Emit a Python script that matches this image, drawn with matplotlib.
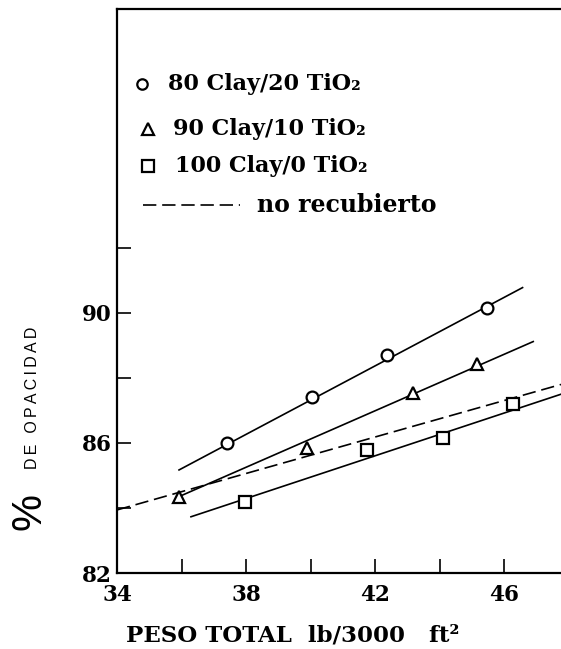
import matplotlib
matplotlib.use("Agg")
import matplotlib.pyplot as plt
import numpy as np

# puntos medidos (peso total lb/3000 ft2, % opacidad)
clay80_x = [37.4, 40.05, 42.35, 45.47]
clay80_y = [86.0, 87.42, 88.71, 90.16]
clay90_x = [35.92, 39.89, 43.17, 45.14]
clay90_y = [84.35, 85.84, 87.55, 88.43]
clay100_x = [37.96, 41.75, 44.1, 46.25]
clay100_y = [84.19, 85.78, 86.16, 87.2]

# rectas de ajuste (extremos)
fit80_x = [35.92, 46.56]
fit80_y = [85.17, 90.78]
fit90_x = [35.92, 46.89]
fit90_y = [84.35, 89.12]
fit100_x = [36.29, 47.75]
fit100_y = [83.73, 87.5]
base_x = [34.0, 47.75]
base_y = [83.94, 87.8]

x_ticks = [34, 36, 38, 40, 42, 44, 46]
x_labels = ['34', '', '38', '', '42', '', '46']
y_ticks = [82, 84, 86, 88, 90, 92]
y_labels = ['82', '', '86', '', '90', '']

legend_labels = ['80 Clay/20 TiO₂', '90 Clay/10 TiO₂', '100 Clay/0 TiO₂', 'no recubierto']

serif = dict(family='DejaVu Serif', weight='bold')

fig = plt.figure(figsize=(5.61, 6.49), dpi=100)
ax = fig.add_axes([0.2086, 0.1171, 0.7914, 0.869])

lw = 1.2
ax.plot(fit80_x, fit80_y, '-', color='black', lw=lw)
ax.plot(fit90_x, fit90_y, '-', color='black', lw=lw)
ax.plot(fit100_x, fit100_y, '-', color='black', lw=lw)
ax.plot(base_x, base_y, color='black', lw=lw, dashes=(8, 3.5))

mk = dict(linestyle='none', markerfacecolor='white', markeredgecolor='black',
          markeredgewidth=1.6, zorder=3)
ax.plot(clay80_x, clay80_y, 'o', markersize=8.5, **mk)
ax.plot(clay90_x, clay90_y, '^', markersize=9, **mk)
ax.plot(clay100_x, clay100_y, 's', markersize=9, **mk)

ax.set_xlim(34, 47.75)
ax.set_ylim(82, 99.35)
ax.set_xticks(x_ticks)
ax.set_xticklabels(x_labels, fontdict=serif, fontsize=15.5)
ax.set_yticks(y_ticks)
ax.set_yticklabels(y_labels, fontdict=serif, fontsize=15.5)
ax.tick_params(direction='in', length=10, width=1.2, top=False, right=False)
ax.tick_params(axis='x', pad=8)
ax.tick_params(axis='y', pad=4)

ax.spines['right'].set_visible(False)
for s in ['left', 'top', 'bottom']:
    ax.spines[s].set_linewidth(1.6)

# leyenda dibujada a mano
rows_y = [0.867, 0.787, 0.722, 0.652]
tr = ax.transAxes
ax.plot([0.056], [rows_y[0]], 'o', markersize=7.5, transform=tr, **mk)
ax.plot([0.070], [rows_y[1]], '^', markersize=8.5, transform=tr, **mk)
ax.plot([0.070], [rows_y[2]], 's', markersize=8.5, transform=tr, **mk)
ax.plot([0.059, 0.277], [rows_y[3], rows_y[3]], color='black', lw=lw,
        dashes=(8, 3.5), transform=tr)
text_x = [0.115, 0.126, 0.131, 0.315]
text_size = [16, 16, 16, 17]
for tx, ty, lab, fs in zip(text_x, rows_y, legend_labels, text_size):
    ax.text(tx, ty, lab, transform=tr, va='center', ha='left', fontsize=fs, **serif)

# titulo del eje x
fig.text(293 / 561, 1 - 636 / 649, 'PESO TOTAL  lb/3000   ft²', ha='center', va='center',
         fontsize=16.5, **serif)

# etiqueta del eje y
fig.text(30 / 561, 1 - 511 / 649, '%', rotation=90, ha='center', va='center',
         fontsize=30, family='Liberation Sans')
fig.text(33 / 561, 1 - 398 / 649, 'D\u2009E\u2009 \u2009O\u2009P\u2009A\u2009C\u2009I\u2009D\u2009A\u2009D',
         rotation=90, ha='center', va='center', fontsize=11.5,
         family=['Liberation Sans', 'DejaVu Sans'])

plt.savefig('out.png', dpi=100)
